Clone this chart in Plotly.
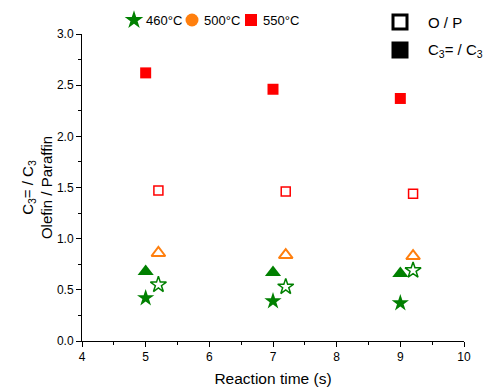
import plotly.graph_objects as go

time_c = [5, 7, 9]          # C3=/C3 points
time_op = [5.2, 7.2, 9.2]   # O/P points (offset)

c3_460 = [0.42, 0.39, 0.37]
c3_460_tri = [0.68, 0.67, 0.66]
op_460 = [0.55, 0.53, 0.69]
op_500 = [0.86, 0.84, 0.83]
c3_550 = [2.62, 2.46, 2.37]
op_550 = [1.47, 1.46, 1.44]

temp_labels = ["460°C", "500°C", "550°C"]
type_labels = ["O / P", "C<sub>3</sub>= / C<sub>3</sub>"]

GREEN = "#008000"
ORANGE = "#FF7F0E"
RED = "#FF0000"
FONT = "Liberation Sans, Arial, sans-serif"
W, H = 485, 388

fig = go.Figure()

def add(x, y, symbol, color, size, lw=2):
    fig.add_trace(go.Scatter(x=x, y=y, mode="markers", showlegend=False,
                             marker=dict(symbol=symbol, color=color, size=size,
                                         line=dict(color=color, width=lw))))

add(time_c, c3_460, "star", GREEN, 13, 0)
add(time_c, c3_460_tri, "triangle-up", GREEN, 14, 0)
add(time_op, op_460, "star-open", GREEN, 12, 1.5)
add(time_op, op_500, "triangle-up-open", ORANGE, 12, 2)
add(time_c, c3_550, "square", RED, 11, 0)
add(time_op, op_550, "square-open", RED, 9, 1.5)

# ---- custom legends drawn on a full-figure helper axis (pixel units) ----
leg1_x = [134, 192, 251]
leg1_y = 20
leg1_sym = ["star", "circle", "square"]
leg1_col = [GREEN, ORANGE, RED]
leg1_size = [14, 13, 12]
for xx, sym, col, sz in zip(leg1_x, leg1_sym, leg1_col, leg1_size):
    fig.add_trace(go.Scatter(x=[xx], y=[leg1_y], xaxis="x2", yaxis="y2", mode="markers",
                             showlegend=False, cliponaxis=False, hoverinfo="skip",
                             marker=dict(symbol=sym, color=col, size=sz, line=dict(width=0))))
for xx, lab in zip(leg1_x, temp_labels):
    fig.add_annotation(x=xx + 10, y=leg1_y, xref="x2", yref="y2", text=lab, showarrow=False,
                       xanchor="left", yanchor="middle",
                       font=dict(family=FONT, size=13, color="black"))

leg2_x = 400
leg2_y = [22, 50]
leg2_sym = ["square-open", "square"]
for yy, sym in zip(leg2_y, leg2_sym):
    fig.add_trace(go.Scatter(x=[leg2_x], y=[yy], xaxis="x2", yaxis="y2", mode="markers",
                             showlegend=False, cliponaxis=False, hoverinfo="skip",
                             marker=dict(symbol=sym, color="black", size=14,
                                         line=dict(color="black", width=3))))
for yy, lab in zip(leg2_y, type_labels):
    fig.add_annotation(x=leg2_x + 26, y=yy, xref="x2", yref="y2", text=lab, showarrow=False,
                       xanchor="left", yanchor="middle",
                       font=dict(family=FONT, size=15, color="black"))

axis_common = dict(showline=True, linecolor="black", linewidth=1, ticks="outside", ticklen=5,
                   tickcolor="black", showgrid=False, zeroline=False,
                   tickfont=dict(family=FONT, size=12, color="black"),
                   minor=dict(ticks="outside", ticklen=3, tickcolor="black"))

L, R, T, B = 82, 464, 34, 341
fig.update_layout(
    width=W, height=H,
    margin=dict(l=0, r=0, t=0, b=0, autoexpand=False),
    paper_bgcolor="white", plot_bgcolor="rgba(0,0,0,0)",
    font=dict(family=FONT, size=14, color="black"),
    showlegend=False,
    xaxis=dict(range=[4, 10], dtick=1, minor_dtick=0.5, domain=[L / W, R / W], anchor="y",
               title=dict(text="Reaction time (s)", font=dict(size=15.5), standoff=9),
               **axis_common),
    yaxis=dict(range=[0, 3.0], dtick=0.5, minor_dtick=0.25, tickformat=".1f",
               domain=[(H - B) / H, (H - T) / H], anchor="x",
               title=dict(text="C<sub>3</sub>= / C<sub>3</sub><br>Olefin / Paraffin", font=dict(size=15), standoff=0),
               **axis_common),
    xaxis2=dict(range=[0, W], domain=[0, 1], anchor="y2", visible=False, fixedrange=True),
    yaxis2=dict(range=[H, 0], domain=[0, 1], anchor="x2", visible=False, fixedrange=True),
)

fig.write_html("out.html")
